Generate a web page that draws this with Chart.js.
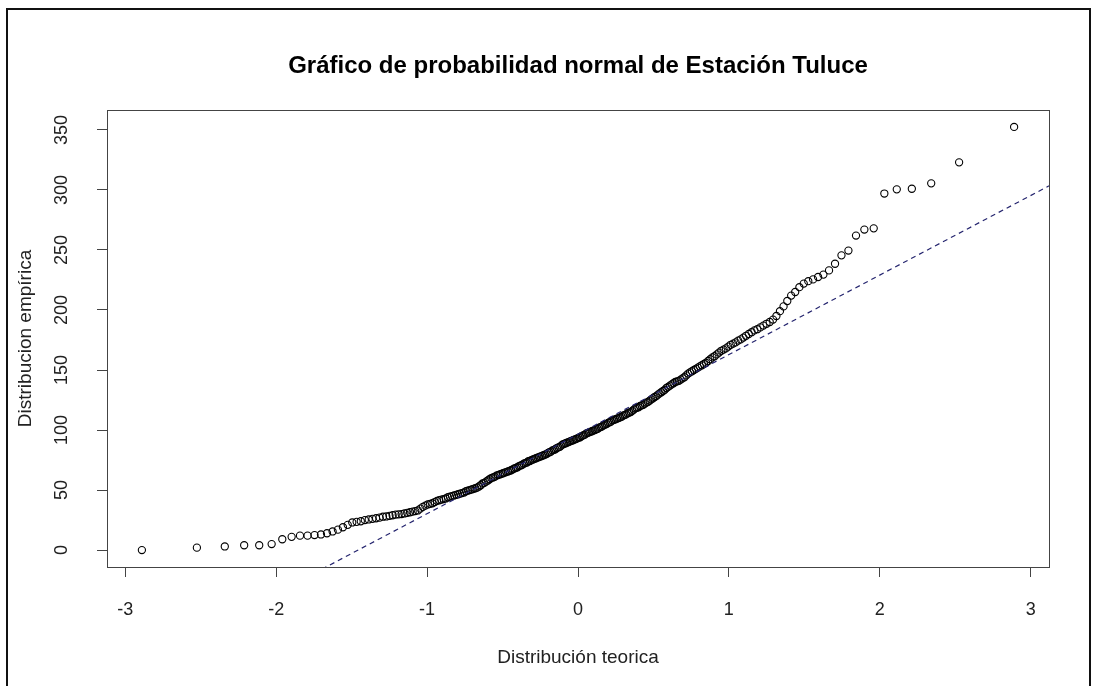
<!DOCTYPE html>
<html>
<head>
<meta charset="utf-8">
<script src="https://cdn.jsdelivr.net/npm/chart.js@4"></script>
<style>
  html, body { margin: 0; padding: 0; background: #fff; }
  canvas { display: block; }
</style>
</head>
<body>
<canvas id="qqChart" width="1097" height="686"></canvas>
<script>
// muestra ordenada (Estación Tuluce)
var muestra = [
  0, 2, 3, 4, 4, 5, 9, 11, 12, 12,
  12.5, 13, 14, 15.5, 17, 19, 21, 23, 23.5, 24,
  25, 25.5, 26, 26.5, 27, 27.8, 28, 28.5, 29, 29.5,
  29.8, 30, 30.5, 31, 31.5, 32, 32.5, 33, 34.5, 36,
  37, 38, 38.5, 39, 40, 41, 41.5, 42, 42.5, 43,
  44, 44.5, 45, 45.5, 46, 46.5, 47, 47.5, 48, 49,
  49.5, 50, 50.5, 51, 51.5, 52, 53, 54, 55.5, 56,
  57, 58, 59, 60, 60.5, 61, 62, 62.5, 63, 63.5,
  64, 64.5, 65, 65.5, 66, 66.5, 67.3, 68, 68.5, 69,
  70, 70.5, 71, 72, 72.5, 73, 74, 74.2, 75, 75.5,
  76, 76.5, 77, 77.5, 78, 78.5, 79, 79.5, 80, 81,
  81.5, 82, 83, 83.5, 84, 85, 85.5, 86, 87, 88,
  88.5, 89, 89.5, 90, 90.5, 91, 91.5, 92, 92.5, 93,
  93.7, 94, 95, 95.5, 96, 97, 97.5, 98, 98.5, 99,
  99.5, 100, 100.6, 101, 102, 102.5, 103, 104, 104.5, 105,
  106, 106.5, 107, 108, 108.5, 109, 109.5, 110, 110.5, 111,
  112, 112.5, 113, 114, 114.5, 115, 116, 117, 118, 118.5,
  119, 120, 120.5, 121, 122, 122.8, 123.5, 124.5, 125.5, 126.5,
  127.5, 128.3, 129.5, 130.5, 131.5, 132.5, 133.5, 135, 136, 137,
  138, 139, 140, 140.5, 141, 142, 143, 144, 145.5, 147,
  148, 149, 150, 151, 152, 153, 154, 155, 156, 157.5,
  159, 160.5, 161.5, 163, 164.5, 166, 167, 168, 169.5, 171,
  172, 173, 174.5, 175.5, 177, 178.5, 180, 181.5, 183, 184,
  185.5, 187, 188.5, 190, 192, 195, 199, 203, 207.5, 212,
  215, 219, 222, 224, 225.5, 227.5, 229.5, 233, 238.5, 245.5,
  249.5, 262, 267, 268, 297, 300.5, 301, 305.5, 323, 352.5
];
var xTicks = [-3, -2, -1, 0, 1, 2, 3];
var yTicks = [0, 50, 100, 150, 200, 250, 300, 350];
var titulo = 'Gráfico de probabilidad normal de Estación Tuluce';
var tituloX = 'Distribución teorica';
var tituloY = 'Distribucion empírica';

var fuente = 'Liberation Sans, Arial, sans-serif';

// inversa de la normal (Acklam)
function qnorm(p) {
  var a = [-3.969683028665376e+01, 2.209460984245205e+02, -2.759285104469687e+02, 1.383577518672690e+02, -3.066479806614716e+01, 2.506628277459239e+00];
  var b = [-5.447609879822406e+01, 1.615858368580409e+02, -1.556989798598866e+02, 6.680131188771972e+01, -1.328068155288572e+01];
  var c = [-7.784894002430293e-03, -3.223964580411365e-01, -2.400758277161838e+00, -2.549732539343734e+00, 4.374664141464968e+00, 2.938163982698783e+00];
  var d = [7.784695709041462e-03, 3.224671290700398e-01, 2.445134137142996e+00, 3.754408661907416e+00];
  var q, r;
  if (p < 0.02425) {
    q = Math.sqrt(-2 * Math.log(p));
    return (((((c[0]*q+c[1])*q+c[2])*q+c[3])*q+c[4])*q+c[5]) / ((((d[0]*q+d[1])*q+d[2])*q+d[3])*q+1);
  }
  if (p > 1 - 0.02425) {
    q = Math.sqrt(-2 * Math.log(1 - p));
    return -(((((c[0]*q+c[1])*q+c[2])*q+c[3])*q+c[4])*q+c[5]) / ((((d[0]*q+d[1])*q+d[2])*q+d[3])*q+1);
  }
  q = p - 0.5; r = q * q;
  return (((((a[0]*r+a[1])*r+a[2])*r+a[3])*r+a[4])*r+a[5])*q / (((((b[0]*r+b[1])*r+b[2])*r+b[3])*r+b[4])*r+1);
}

function cuantil(v, p) {
  var h = (v.length - 1) * p, lo = Math.floor(h);
  return v[lo] + (h - lo) * (v[lo + 1] - v[lo]);
}

// puntos teoricos como en qqnorm (ppoints)
var n = muestra.length;
var puntos = muestra.map(function (y, i) {
  return { x: qnorm((i + 0.5) / n), y: y };
});

// rangos como en R (4% extra)
var xLo = puntos[0].x, xHi = puntos[n - 1].x;
var yLo = muestra[0], yHi = muestra[n - 1];
var xMin = xLo - 0.04 * (xHi - xLo), xMax = xHi + 0.04 * (xHi - xLo);
var yMin = yLo - 0.04 * (yHi - yLo), yMax = yHi + 0.04 * (yHi - yLo);

// qqline: recta por los cuartiles
var q1 = cuantil(muestra, 0.25), q3 = cuantil(muestra, 0.75);
var pendiente = (q3 - q1) / (qnorm(0.75) - qnorm(0.25));
var intercepto = q1 - pendiente * qnorm(0.25);
var recta = [xMin, xMax].map(function (x) {
  return { x: x, y: intercepto + pendiente * x };
});

var marco = {
  id: 'marco',
  afterDraw: function (chart) {
    var ctx = chart.ctx, a = chart.chartArea;
    ctx.save();
    ctx.strokeStyle = '#444';
    ctx.lineWidth = 1;
    ctx.strokeRect(Math.round(a.left) + 0.5, Math.round(a.top) + 0.5,
      Math.round(a.right - a.left), Math.round(a.bottom - a.top));
    ctx.strokeStyle = '#111';
    ctx.lineWidth = 2;
    ctx.beginPath();
    ctx.moveTo(7, 700);
    ctx.lineTo(7, 9);
    ctx.lineTo(1090, 9);
    ctx.lineTo(1090, 700);
    ctx.stroke();
    ctx.restore();
  }
};

var ctx = document.getElementById('qqChart');
var myChart = new Chart(ctx, {
  type: 'scatter',
  data: {
    datasets: [{
      label: 'qqline',
      data: recta,
      showLine: true,
      borderColor: '#24246e',
      borderWidth: 1.2,
      borderDash: [5, 4],
      pointRadius: 0
    }, {
      label: 'muestra',
      data: puntos,
      pointStyle: 'circle',
      pointRadius: 3.6,
      borderWidth: 1.1,
      borderColor: '#000',
      backgroundColor: 'rgba(0,0,0,0)'
    }]
  },
  options: {
    responsive: false,
    animation: false,
    layout: { padding: { left: 0, right: 48, top: 0, bottom: 0 } },
    plugins: {
      legend: { display: false },
      tooltip: { enabled: false },
      title: {
        display: true,
        text: titulo,
        fullSize: false,
        color: '#000',
        font: { family: fuente, size: 24, weight: 'bold' },
        padding: { top: 52, bottom: 29.2 }
      }
    },
    scales: {
      x: {
        type: 'linear',
        min: xMin,
        max: xMax,
        afterBuildTicks: function (s) { s.ticks = xTicks.map(function (v) { return { value: v }; }); },
        afterFit: function (s) { s.height = 119; },
        grid: { drawOnChartArea: false, drawTicks: true, tickLength: 10, color: '#444' },
        border: { display: true, color: '#444' },
        ticks: { color: '#222', padding: 22, maxRotation: 0, font: { family: fuente, size: 18 } },
        title: { display: true, text: tituloX, color: '#222', font: { family: fuente, size: 19 }, padding: { top: 0, bottom: 17 } }
      },
      y: {
        type: 'linear',
        min: yMin,
        max: yMax,
        afterBuildTicks: function (s) { s.ticks = yTicks.map(function (v) { return { value: v }; }); },
        afterFit: function (s) { s.width = 107; },
        grid: { drawOnChartArea: false, drawTicks: true, tickLength: 10, color: '#444' },
        border: { display: true, color: '#444' },
        ticks: { color: '#222', padding: 20, minRotation: 90, maxRotation: 90, crossAlign: 'center', font: { family: fuente, size: 18 } },
        title: { display: true, text: tituloY, color: '#222', font: { family: fuente, size: 19 }, padding: { top: 14, bottom: 0 } }
      }
    }
  },
  plugins: [marco]
});
</script>
</body>
</html>
